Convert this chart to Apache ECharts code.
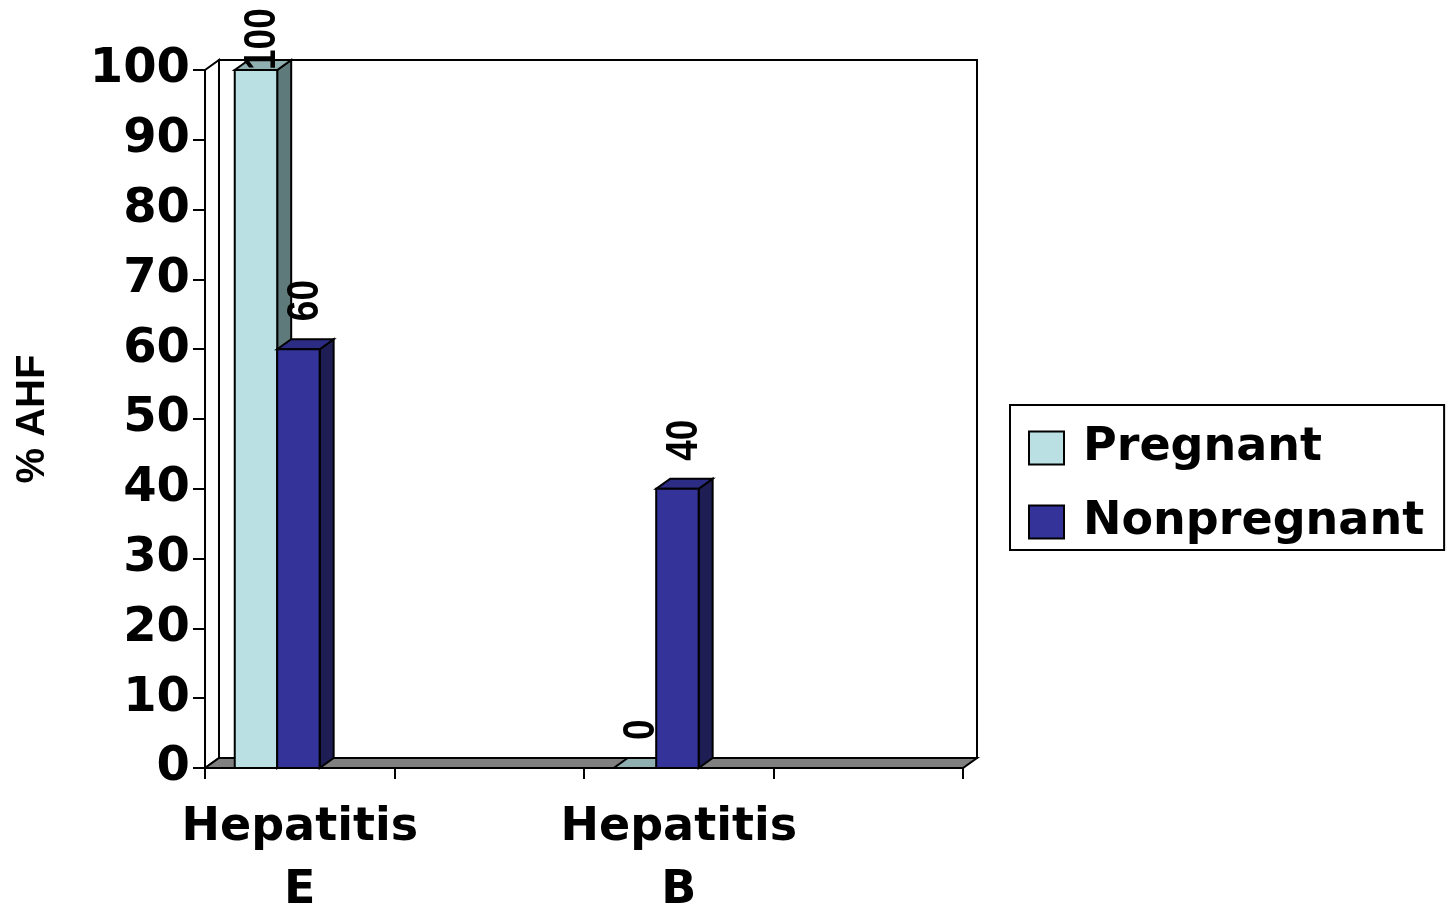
<!DOCTYPE html>
<html>
<head>
<meta charset="utf-8">
<title>% AHF</title>
<script src="https://cdn.jsdelivr.net/npm/echarts@6/dist/echarts.min.js"></script>
<style>
    html, body { margin: 0; padding: 0; background: #fff; }
    #chart { width: 1447px; height: 911px; }
</style>
</head>
<body>
<div id="chart"></div>
<script>
    // 数据
    var categories = ['Hepatitis\nE', '', 'Hepatitis\nB', ''];
    var seriesNames = ['Pregnant', 'Nonpregnant'];
    var pregnant = [100, null, 0, null];
    var nonpregnant = [60, null, 40, null];
    var yTicks = [0, 10, 20, 30, 40, 50, 60, 70, 80, 90, 100];

    // 3D 深度偏移
    var DX = 14, DY = -10;
    var txtFont = 'DejaVu Sans';
    var vertFont = 'Liberation Sans';
    var LW = 2;

    // 面的颜色：正面、顶面、侧面
    var faces = [
        { front: '#bbe0e3', top: '#8fafb0', side: '#5f7a7a' },
        { front: '#333399', top: '#2c2c85', side: '#1e1e55' }
    ];

    function toData(arr) {
        var out = [];
        arr.forEach(function (v, i) {
            if (v !== null) out.push([i, v]);
        });
        return out;
    }

    // 背景墙和地板
    function renderWalls(params, api) {
        var cs = params.coordSys;
        var x0 = cs.x, y0 = cs.y, w = cs.width, h = cs.height;
        var line = { stroke: '#000', lineWidth: LW };
        return {
            type: 'group',
            children: [
                {
                    type: 'rect',
                    shape: { x: x0 + DX, y: y0 + DY, width: w, height: h },
                    style: Object.assign({ fill: '#fff' }, line)
                },
                {
                    type: 'polygon',
                    shape: { points: [[x0, y0], [x0 + DX, y0 + DY], [x0 + DX, y0 + h + DY], [x0, y0 + h]] },
                    style: Object.assign({ fill: '#fff' }, line)
                },
                {
                    type: 'polygon',
                    shape: { points: [[x0, y0 + h], [x0 + w, y0 + h], [x0 + w + DX, y0 + h + DY], [x0 + DX, y0 + h + DY]] },
                    style: Object.assign({ fill: '#808080' }, line)
                }
            ]
        };
    }

    // 3D 柱子
    function makeBar(k) {
        var col = faces[k];
        return function (params, api) {
            var idx = api.value(0);
            var val = api.value(1);
            var topPt = api.coord([idx, val]);
            var basePt = api.coord([idx, 0]);
            var slot = api.size([1, 0])[0];
            var bw = slot * 0.224;
            var L = topPt[0] - slot * 0.343 + k * bw;
            var R = L + bw;
            var T = topPt[1];
            var B = basePt[1];
            var line = { stroke: '#000', lineWidth: LW };
            // 标签放在柱顶上方，超出画布时往下压
            var labelY = Math.max(T + DY - 18, 70);
            return {
                type: 'group',
                children: [
                    {
                        type: 'polygon',
                        shape: { points: [[R, T], [R + DX, T + DY], [R + DX, B + DY], [R, B]] },
                        style: Object.assign({ fill: col.side }, line)
                    },
                    {
                        type: 'polygon',
                        shape: { points: [[L, T], [R, T], [R + DX, T + DY], [L + DX, T + DY]] },
                        style: Object.assign({ fill: col.top }, line)
                    },
                    {
                        type: 'rect',
                        shape: { x: L, y: T, width: bw, height: B - T },
                        style: Object.assign({ fill: col.front }, line)
                    },
                    {
                        type: 'text',
                        x: (L + R) / 2 + DX / 2,
                        y: labelY,
                        rotation: Math.PI / 2,
                        scaleY: 1.2,
                        z2: 10,
                        style: {
                            text: String(val),
                            fill: '#000',
                            font: 'bold 37px "' + vertFont + '"',
                            align: 'left',
                            verticalAlign: 'middle'
                        }
                    }
                ]
            };
        };
    }

    var myChart = echarts.init(document.getElementById('chart'));

    var option = {
        backgroundColor: '#fff',
        animation: false,
        grid: {
            left: 205,
            top: 70,
            width: 758,
            height: 698,
            containLabel: false,
            outerBoundsMode: 'none'
        },
        legend: {
            data: seriesNames,
            orient: 'vertical',
            left: 1010,
            top: 405,
            padding: [18, 20, 3, 18],
            itemGap: 24,
            itemWidth: 35,
            itemHeight: 33,
            icon: 'rect',
            borderColor: '#000',
            borderWidth: LW,
            backgroundColor: '#fff',
            itemStyle: { borderColor: '#000', borderWidth: LW },
            selectedMode: false,
            textStyle: {
                fontFamily: txtFont,
                fontWeight: 'bold',
                fontSize: 46,
                lineHeight: 50,
                color: '#000',
                padding: [0, 0, 0, 14]
            }
        },
        xAxis: {
            type: 'category',
            data: categories,
            boundaryGap: true,
            axisLine: { lineStyle: { color: '#000', width: LW } },
            axisTick: { show: true, interval: 0, length: 11, lineStyle: { color: '#000', width: LW } },
            axisLabel: {
                interval: 0,
                margin: 29,
                color: '#000',
                fontFamily: txtFont,
                fontWeight: 'bold',
                fontSize: 46,
                lineHeight: 63
            },
            splitLine: { show: false }
        },
        yAxis: {
            type: 'value',
            min: yTicks[0],
            max: yTicks[yTicks.length - 1],
            interval: yTicks[1] - yTicks[0],
            name: '% AHF',
            nameLocation: 'middle',
            nameRotate: 90,
            nameGap: 152,
            nameTextStyle: {
                fontFamily: vertFont,
                fontWeight: 'bold',
                fontSize: 40,
                color: '#000'
            },
            axisLine: { show: true, lineStyle: { color: '#000', width: LW } },
            axisTick: { show: true, length: 12, lineStyle: { color: '#000', width: LW } },
            axisLabel: {
                margin: 15,
                color: '#000',
                fontFamily: txtFont,
                fontWeight: 'bold',
                fontSize: 48
            },
            splitLine: { show: false }
        },
        series: [
            {
                name: 'walls',
                type: 'custom',
                silent: true,
                z: 1,
                renderItem: renderWalls,
                data: [[0, 0]]
            },
            {
                name: seriesNames[0],
                type: 'custom',
                z: 2,
                itemStyle: { color: faces[0].front },
                renderItem: makeBar(0),
                data: toData(pregnant)
            },
            {
                name: seriesNames[1],
                type: 'custom',
                z: 3,
                itemStyle: { color: faces[1].front },
                renderItem: makeBar(1),
                data: toData(nonpregnant)
            }
        ]
    };

    myChart.setOption(option);

    window.addEventListener('resize', function () {
        myChart.resize();
    });
</script>
</body>
</html>
